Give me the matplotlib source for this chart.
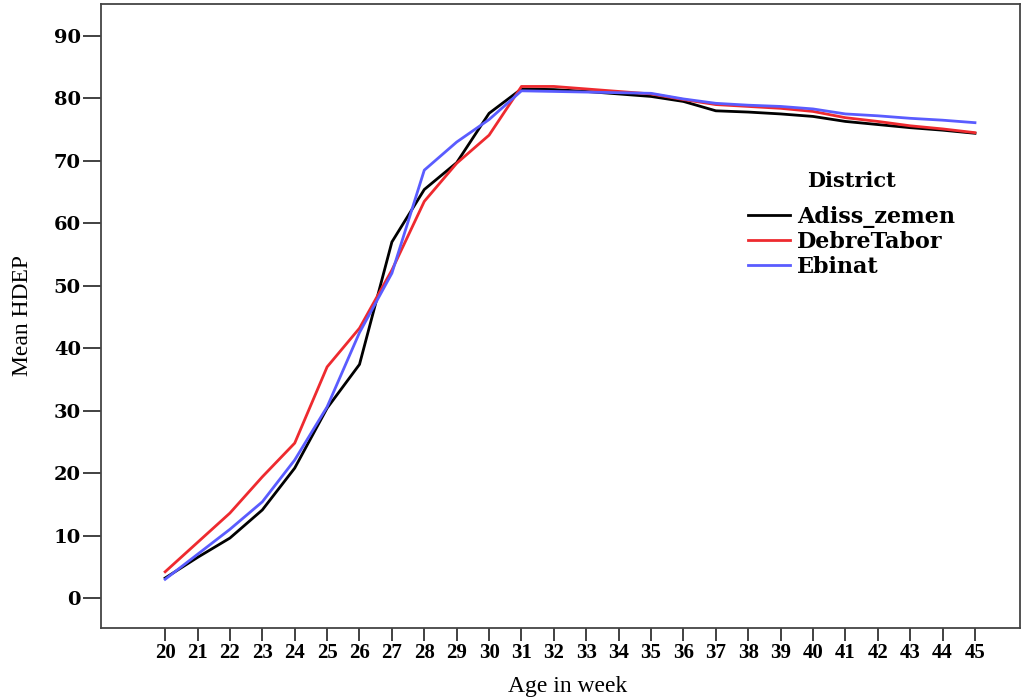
import numpy as np
import matplotlib.pyplot as plt

weeks = list(range(20, 46))

adiss_zemen = [3.2, 6.5, 9.6, 14.1, 20.8, 30.4, 37.4, 57.0, 65.4, 69.7, 77.6,
               81.5, 81.4, 81.1, 80.7, 80.3, 79.5, 78.0, 77.8, 77.5, 77.1,
               76.3, 75.8, 75.3, 74.9, 74.4]
debre_tabor = [4.2, 8.9, 13.6, 19.4, 24.8, 37.0, 43.2, 52.5, 63.5, 69.6, 74.1,
               81.9, 81.9, 81.5, 81.1, 80.7, 79.8, 79.0, 78.7, 78.4, 77.9,
               76.9, 76.3, 75.6, 75.1, 74.5]
ebinat = [3.0, 7.0, 11.0, 15.4, 22.1, 30.6, 42.5, 52.0, 68.5, 73.0, 76.6,
          81.2, 81.1, 81.0, 80.9, 80.8, 79.9, 79.2, 78.9, 78.7, 78.3,
          77.5, 77.2, 76.8, 76.5, 76.1]

yticks = list(range(0, 100, 10))

plt.rcParams['font.family'] = ['Liberation Serif', 'DejaVu Serif']

fig = plt.figure(figsize=(10.23, 7), dpi=100)
ax = fig.add_axes([101/1023, 1 - 628/700, (1020 - 101)/1023, (628 - 4)/700])

ax.plot(weeks, adiss_zemen, color='black', lw=2, label='Adiss_zemen')
ax.plot(weeks, debre_tabor, color='#ee2a2f', lw=2, label='DebreTabor')
ax.plot(weeks, ebinat, color='#5a5cff', lw=2, label='Ebinat')

ax.set_xlim(18.02, 46.39)
ax.set_ylim(-4.8, 95.1)
ax.set_xticks(weeks)
ax.set_yticks(yticks)
ax.tick_params(axis='both', direction='out', width=1.3, color='#333333')
ax.tick_params(axis='x', length=9, pad=2, labelsize=15)
ax.tick_params(axis='y', length=13, pad=1.5, labelsize=14)
for lab in ax.get_xticklabels():
    lab.set_fontweight('bold')
for lab in ax.get_yticklabels():
    lab.set_fontweight('bold')
    lab.set_family('DejaVu Serif')
for sp in ax.spines.values():
    sp.set_color('#444444')
    sp.set_linewidth(1.3)

ax.set_xlabel('Age in week', fontsize=17)
ax.xaxis.set_label_coords((568 - 101) / 919, -48 / 624)
ax.set_ylabel('Mean HDEP', fontsize=17)
ax.yaxis.set_label_coords((33 - 101) / 919, 0.5)

leg = ax.legend(loc='upper left', bbox_to_anchor=(0.682, 0.709),
                frameon=False, handlelength=1.9, handletextpad=0.3,
                labelspacing=0.15, prop={'family': 'DejaVu Serif', 'weight': 'bold', 'size': 16})
fig.text(851 / 1023, 1 - 181 / 700, 'District', ha='center', va='center',
         family='DejaVu Serif', fontweight='bold', fontsize=15)

fig.savefig('out.png', dpi=100)
